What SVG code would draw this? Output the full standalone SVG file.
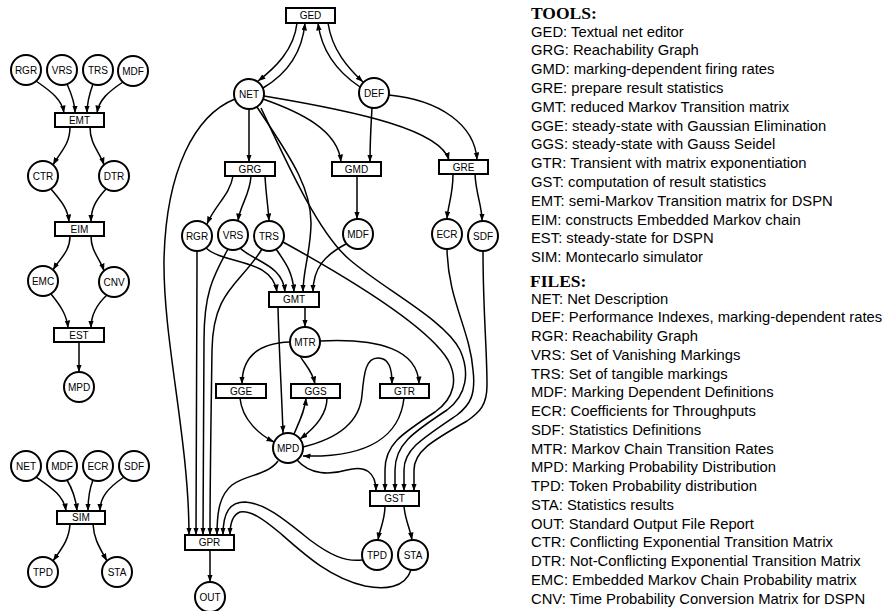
<svg xmlns="http://www.w3.org/2000/svg" width="886" height="611" viewBox="0 0 886 611">
<style>
.nd circle,.nd rect{fill:#fff;stroke:#000;stroke-width:2}
.nd text{font-family:"Liberation Sans",Arial,sans-serif;font-size:10px;text-anchor:middle;fill:#000}
#edges path{fill:none;stroke:#000;stroke-width:1.5;marker-end:url(#ah)}
.leg{font-family:"Liberation Sans",Arial,sans-serif;font-size:14.8px;fill:#000}
.hd{font-family:"Liberation Serif","Times New Roman",serif;font-size:17.5px;font-weight:bold;fill:#000}
</style>
<defs>
<marker id="ah" markerUnits="userSpaceOnUse" markerWidth="8" markerHeight="6" refX="7.5" refY="2.75" orient="auto">
<path d="M0,0 L7.5,2.75 L0,5.5 z" fill="#000"/>
</marker>
</defs>
<rect width="886" height="611" fill="#fff"/>
<g id="edges">
<!-- left: EMT chain -->
<path d="M36,81 C52,92 62,100 64,113"/>
<path d="M67,84 C72,95 75,103 75,113"/>
<path d="M93,84 C89,95 87,103 87,113"/>
<path d="M123,82 C108,92 99,100 97,113"/>
<path d="M70,127 C70,145 60,152 53,165"/>
<path d="M90,127 C90,145 100,152 104,165"/>
<path d="M51,189 C60,200 68,208 69,222"/>
<path d="M106,189 C96,200 91,208 91,222"/>
<path d="M70,236 C70,252 60,258 53,270"/>
<path d="M91,236 C91,252 100,258 104,271"/>
<path d="M51,294 C60,305 67,315 68,328"/>
<path d="M107,295 C96,305 91,315 91,328"/>
<path d="M79,342 L79,372"/>
<!-- left: SIM -->
<path d="M36,477 C52,488 64,496 66,511"/>
<path d="M67,480 C73,490 76,500 77,511"/>
<path d="M93,480 C89,490 88,500 88,511"/>
<path d="M124,477 C108,488 100,497 100,511"/>
<path d="M70,524 C69,540 62,548 53,561"/>
<path d="M93,524 C94,540 100,548 107,561"/>
<!-- main -->
<path d="M297,23 C294,50 275,68 258,81"/>
<path d="M263,88 C285,75 302,55 305,23"/>
<path d="M328,23 C332,50 348,68 363,82"/>
<path d="M360,87 C342,75 322,55 318,23"/>
<path d="M249,109 L249,162"/>
<path d="M263,99 C300,112 338,130 341,162"/>
<path d="M264,96 C360,112 440,130 449,160"/>
<path d="M372,108 C371,125 370,140 370,162"/>
<path d="M389,95 C440,100 475,125 477,160"/>
<path d="M235,99 C195,115 166,170 164,260 C163,340 189,440 189,535"/>
<path d="M233,176 C230,195 215,205 207,224"/>
<path d="M251,176 C250,195 240,205 238,221"/>
<path d="M265,176 C266,195 268,205 269,221"/>
<path d="M357,176 L357,219"/>
<path d="M453,174 C453,195 448,205 447,219"/>
<path d="M475,174 C476,195 482,205 482,221"/>
<path d="M206,248 C225,265 272,258 277,292"/>
<path d="M197,251 C197,350 196,450 196,535"/>
<path d="M228,249 C212,278 204,295 204,340 C204,420 203,480 203,535"/>
<path d="M262,249 C240,285 213,290 212,350 C211,420 210,480 210,535"/>
<path d="M240,248 C255,262 283,265 285,292"/>
<path d="M276,249 C285,262 293,272 294,292"/>
<path d="M257,107 C285,150 312,185 311,225 C310,255 303,270 303,292"/>
<path d="M346,244 C325,255 313,268 313,292"/>
<path d="M283,242 C370,290 430,330 448,360 C458,378 455,398 435,412 C400,435 385,445 385,470 L385,491"/>
<path d="M261,108 C290,170 320,235 350,260 C385,290 445,320 460,350 C470,372 467,395 447,410 C412,433 395,445 395,470 L395,491"/>
<path d="M447,249 C448,300 470,330 473,370 C476,395 470,405 457,415 C420,440 404,450 404,470 L404,491"/>
<path d="M483,251 C483,310 487,350 487,385 C487,405 480,412 467,421 C430,442 414,452 414,470 L414,491"/>
<path d="M305,307 L305,327"/>
<path d="M278,307 C279,350 282,400 283,433"/>
<path d="M290,342 C260,343 242,355 242,384"/>
<path d="M300,356 C305,365 312,370 315,384"/>
<path d="M320,341 C380,338 418,350 419,384"/>
<path d="M240,398 C242,420 260,435 274,442"/>
<path d="M294,434 C300,420 305,410 306,398"/>
<path d="M327,398 C327,415 315,428 300,439"/>
<path d="M303,447 C340,438 360,420 362,395 C364,372 366,358 378,358 C389,358 392,368 392,384"/>
<path d="M404,398 C400,435 370,458 303,456"/>
<path d="M297,460 C310,475 330,475 347,470 C365,465 376,472 376,491"/>
<path d="M278,461 C268,475 245,475 232,485 C220,495 217,510 217,535"/>
<path d="M362,560 C345,562 330,555 310,540 C285,520 265,503 245,502 C230,502 223,512 223,535"/>
<path d="M411,570 C405,588 385,590 365,586 C330,578 305,555 280,533 C262,518 250,510 240,512 C232,515 230,525 230,535"/>
<path d="M210,550 L210,582"/>
<path d="M385,506 C385,520 380,528 378,540"/>
<path d="M404,506 C405,520 410,528 412,540"/>
</g>
<!-- left column nodes -->
<g id="emt-rgr" class="nd"><circle cx="26" cy="70" r="15"/><text x="26" y="73.5">RGR</text></g>
<g id="emt-vrs" class="nd"><circle cx="62" cy="70" r="15"/><text x="62" y="73.5">VRS</text></g>
<g id="emt-trs" class="nd"><circle cx="98" cy="70" r="15"/><text x="98" y="73.5">TRS</text></g>
<g id="emt-mdf" class="nd"><circle cx="133" cy="71" r="15"/><text x="133" y="74.5">MDF</text></g>
<g id="EMT" class="nd"><rect x="55" y="113" width="49" height="14"/><text x="79.5" y="123.5">EMT</text></g>
<g id="CTR" class="nd"><circle cx="43" cy="176" r="15"/><text x="43" y="179.5">CTR</text></g>
<g id="DTR" class="nd"><circle cx="114" cy="176" r="15"/><text x="114" y="179.5">DTR</text></g>
<g id="EIM" class="nd"><rect x="55" y="222" width="49" height="14"/><text x="79.5" y="232.5">EIM</text></g>
<g id="EMC" class="nd"><circle cx="43" cy="281" r="15"/><text x="43" y="284.5">EMC</text></g>
<g id="CNV" class="nd"><circle cx="114" cy="282" r="15"/><text x="114" y="285.5">CNV</text></g>
<g id="EST" class="nd"><rect x="54" y="328" width="50" height="14"/><text x="79" y="338.5">EST</text></g>
<g id="est-mpd" class="nd"><circle cx="79" cy="387" r="15"/><text x="79" y="390.5">MPD</text></g>
<g id="sim-net" class="nd"><circle cx="26" cy="466" r="15"/><text x="26" y="469.5">NET</text></g>
<g id="sim-mdf" class="nd"><circle cx="62" cy="466" r="15"/><text x="62" y="469.5">MDF</text></g>
<g id="sim-ecr" class="nd"><circle cx="98" cy="466" r="15"/><text x="98" y="469.5">ECR</text></g>
<g id="sim-sdf" class="nd"><circle cx="134" cy="466" r="15"/><text x="134" y="469.5">SDF</text></g>
<g id="SIM" class="nd"><rect x="57" y="511" width="48" height="13"/><text x="81" y="521">SIM</text></g>
<g id="sim-tpd" class="nd"><circle cx="43" cy="572" r="15"/><text x="43" y="575.5">TPD</text></g>
<g id="sim-sta" class="nd"><circle cx="117" cy="572" r="15"/><text x="117" y="575.5">STA</text></g>
<!-- main nodes -->
<g id="GED" class="nd"><rect x="286" y="8" width="49" height="15"/><text x="310.5" y="19">GED</text></g>
<g id="NET" class="nd"><circle cx="249" cy="94" r="15"/><text x="249" y="97.5">NET</text></g>
<g id="DEF" class="nd"><circle cx="374" cy="93" r="15"/><text x="374" y="96.5">DEF</text></g>
<g id="GRG" class="nd"><rect x="225" y="162" width="50" height="14"/><text x="250" y="172.5">GRG</text></g>
<g id="GMD" class="nd"><rect x="332" y="162" width="49" height="14"/><text x="356.5" y="172.5">GMD</text></g>
<g id="GRE" class="nd"><rect x="439" y="160" width="49" height="14"/><text x="463.5" y="170.5">GRE</text></g>
<g id="RGR" class="nd"><circle cx="197" cy="236" r="15"/><text x="197" y="239.5">RGR</text></g>
<g id="VRS" class="nd"><circle cx="233" cy="235" r="15"/><text x="233" y="238.5">VRS</text></g>
<g id="TRS" class="nd"><circle cx="269" cy="236" r="15"/><text x="269" y="239.5">TRS</text></g>
<g id="MDF" class="nd"><circle cx="358" cy="234" r="15"/><text x="358" y="237.5">MDF</text></g>
<g id="ECR" class="nd"><circle cx="447" cy="234" r="15"/><text x="447" y="237.5">ECR</text></g>
<g id="SDF" class="nd"><circle cx="483" cy="236" r="15"/><text x="483" y="239.5">SDF</text></g>
<g id="GMT" class="nd"><rect x="269" y="292" width="50" height="15"/><text x="294" y="303">GMT</text></g>
<g id="MTR" class="nd"><circle cx="305" cy="342" r="15"/><text x="305" y="345.5">MTR</text></g>
<g id="GGE" class="nd"><rect x="216" y="384" width="50" height="14"/><text x="241" y="394.5">GGE</text></g>
<g id="GGS" class="nd"><rect x="291" y="384" width="49" height="14"/><text x="315.5" y="394.5">GGS</text></g>
<g id="GTR" class="nd"><rect x="380" y="384" width="49" height="14"/><text x="404.5" y="394.5">GTR</text></g>
<g id="MPD" class="nd"><circle cx="288" cy="448" r="15"/><text x="288" y="451.5">MPD</text></g>
<g id="GST" class="nd"><rect x="370" y="491" width="49" height="15"/><text x="394.5" y="502">GST</text></g>
<g id="TPD" class="nd"><circle cx="377" cy="555" r="15"/><text x="377" y="558.5">TPD</text></g>
<g id="STA" class="nd"><circle cx="413" cy="555" r="15"/><text x="413" y="558.5">STA</text></g>
<g id="GPR" class="nd"><rect x="185" y="535" width="49" height="15"/><text x="209.5" y="546">GPR</text></g>
<g id="OUT" class="nd"><circle cx="210" cy="597" r="15"/><text x="210" y="600.5">OUT</text></g>
<!-- legend -->
<g id="legend">
<text class="hd" x="531" y="19">TOOLS:</text>
<text class="leg" x="531" y="36.5">GED: Textual net editor</text>
<text class="leg" x="531" y="55.3">GRG: Reachability Graph</text>
<text class="leg" x="531" y="74.1">GMD: marking-dependent firing rates</text>
<text class="leg" x="531" y="92.9">GRE: prepare result statistics</text>
<text class="leg" x="531" y="111.7">GMT: reduced Markov Transition matrix</text>
<text class="leg" x="531" y="130.5">GGE: steady-state with Gaussian Elimination</text>
<text class="leg" x="531" y="149.3">GGS: steady-state with Gauss Seidel</text>
<text class="leg" x="531" y="168.1">GTR: Transient with matrix exponentiation</text>
<text class="leg" x="531" y="186.9">GST: computation of result statistics</text>
<text class="leg" x="531" y="205.7">EMT: semi-Markov Transition matrix for DSPN</text>
<text class="leg" x="531" y="224.5">EIM: constructs Embedded Markov chain</text>
<text class="leg" x="531" y="243.3">EST: steady-state for DSPN</text>
<text class="leg" x="531" y="262.1">SIM: Montecarlo simulator</text>
<text class="hd" x="530" y="287">FILES:</text>
<text class="leg" x="531" y="303.5">NET: Net Description</text>
<text class="leg" x="531" y="322.25">DEF: Performance Indexes, marking-dependent rates</text>
<text class="leg" x="531" y="341">RGR: Reachability Graph</text>
<text class="leg" x="531" y="359.75">VRS: Set of Vanishing Markings</text>
<text class="leg" x="531" y="378.5">TRS: Set of tangible markings</text>
<text class="leg" x="531" y="397.25">MDF: Marking Dependent Definitions</text>
<text class="leg" x="531" y="416">ECR: Coefficients for Throughputs</text>
<text class="leg" x="531" y="434.75">SDF: Statistics Definitions</text>
<text class="leg" x="531" y="453.5">MTR: Markov Chain Transition Rates</text>
<text class="leg" x="531" y="472.25">MPD: Marking Probability Distribution</text>
<text class="leg" x="531" y="491">TPD: Token Probability distribution</text>
<text class="leg" x="531" y="509.75">STA: Statistics results</text>
<text class="leg" x="531" y="528.5">OUT: Standard Output File Report</text>
<text class="leg" x="531" y="547.25">CTR: Conflicting Exponential Transition Matrix</text>
<text class="leg" x="531" y="566">DTR: Not-Conflicting Exponential Transition Matrix</text>
<text class="leg" x="531" y="584.75">EMC: Embedded Markov Chain Probability matrix</text>
<text class="leg" x="531" y="603.5">CNV: Time Probability Conversion Matrix for DSPN</text>
</g>
</svg>
